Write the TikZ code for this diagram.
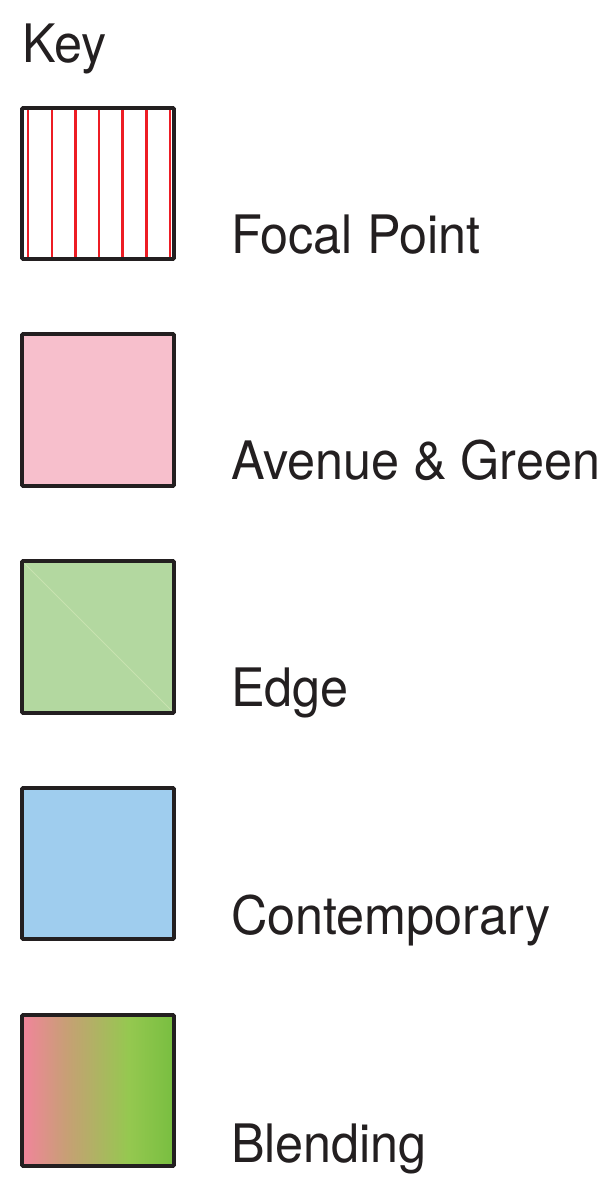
\documentclass[tikz,border=0pt]{standalone}
\usepackage{fontspec}
\setmainfont{TeX Gyre Heros}
\definecolor{boxline}{HTML}{231F20}
\definecolor{hatchred}{HTML}{ED1C24}
\definecolor{avepink}{HTML}{F7BFCC}
\definecolor{edgegreen}{HTML}{B3D8A0}
\definecolor{edgediag}{HTML}{C8E2B0}
\definecolor{contblue}{HTML}{9FCDEE}
\definecolor{blpink}{HTML}{F2849C}
\definecolor{bltan}{HTML}{C6A074}
\definecolor{bllime}{HTML}{95C850}
\definecolor{blgreen}{HTML}{78BE40}
\definecolor{textcol}{HTML}{231F20}
\pgfdeclarehorizontalshading{blendshade}{100bp}{
  color(0bp)=(blpink); color(25bp)=(blpink); color(40bp)=(bltan); color(60bp)=(bllime); color(75bp)=(blgreen); color(100bp)=(blgreen)}
\begin{document}
\begin{tikzpicture}[x=1pt,y=-1pt,
  keybox/.style={draw=boxline, line width=3.6pt, rounded corners=1pt},
  keylabel/.style={anchor=base west, inner sep=0pt, outer sep=0pt, text=textcol, font=\fontsize{53}{60}\selectfont}]
\useasboundingbox (0,0) rectangle (606,1177);
\fill[white] (0,0) rectangle (606,1177);
% title
\node[keylabel] (title) at (22,63) {\scalebox{0.95}[1]{Key}};
% focal point box
\foreach \xx in {28,51.7,75.4,99,122.6,146.3,170}
  \draw[hatchred, line width=2.4pt] (\xx,108) -- (\xx,259);
\draw[keybox] (22,108) rectangle (174,259);
\node[keylabel] (l1) at (231,253) {\scalebox{0.95}[1]{Focal Point}};
% avenue & green
\draw[keybox, fill=avepink] (22,334) rectangle (174,486);
\node[keylabel] (l2) at (231,479) {\scalebox{0.95}[1]{Avenue \& Green}};
% edge
\fill[edgegreen] (22,561) rectangle (174,713);
\draw[edgediag, line width=0.8pt] (24,563) -- (172,711);
\draw[keybox] (22,561) rectangle (174,713);
\node[keylabel] (l3) at (231,706) {\scalebox{0.95}[1]{Edge}};
% contemporary
\draw[keybox, fill=contblue] (22,788) rectangle (174,939);
\node[keylabel] (l4) at (231,934) {\scalebox{0.95}[1]{Contemporary}};
% blending
\shade[shading=blendshade] (22,1015) rectangle (174,1166);
\draw[keybox] (22,1015) rectangle (174,1166);
\node[keylabel] (l5) at (231,1162) {\scalebox{0.95}[1]{Blending}};
\end{tikzpicture}
\end{document}
